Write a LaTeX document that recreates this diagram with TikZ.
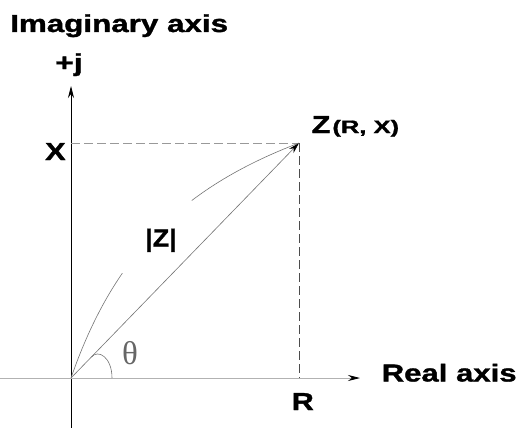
\documentclass[tikz,border=0pt]{standalone}
\usepackage{graphicx}
\usepackage{fontspec}
\setmainfont{Liberation Sans}[BoldFeatures={FakeBold=1.2}]
\newfontfamily\thetafont{Liberation Serif}
\usetikzlibrary{arrows.meta}
\begin{document}
\begin{tikzpicture}[x=1pt,y=-1pt,
  lbl/.style={inner sep=0pt,anchor=base west,font=\fontsize{24.5}{28}\selectfont\bfseries},
  axisline/.style={line width=0.8pt},
  guide/.style={gray!80,line width=0.7pt,dash pattern=on 9pt off 4pt},
  thin/.style={gray!90!black,line width=0.6pt},
  tip/.style={-{Stealth[length=12pt,width=6pt]}}]
\useasboundingbox (0,0) rectangle (519,428);
% key points
\coordinate (O) at (71,378);
\coordinate (Z) at (299,143);
\coordinate (Xp) at (71,143);
\coordinate (Rp) at (299,378);
\coordinate (ybot) at (71,428);
\coordinate (ytop) at (71,86);
\coordinate (xleft) at (0,378);
\coordinate (xright) at (360,378);
\coordinate (ta) at (91.5,357);
\coordinate (tb) at (112,378);
% axes
\draw[axisline,black,tip] (ybot) -- (ytop);
\draw[axisline,gray!60,-{Stealth[length=12pt,width=6pt,black]}] (xleft) -- (xright);
% guides
\draw[guide] (Xp) -- (Z);
\draw[guide,black!70] (Z) -- (Rp);
% vector and arc
\draw[thin,-{Stealth[length=11pt,width=6pt,black]}] (O) -- (Z);
\draw[thin,dash pattern=on 117pt off 101pt on 160pt] (O) to[bend left=25] (Z);
\draw[thin] (ta) .. controls (98,349) and (112,357) .. (tb);
% labels
\node[lbl] (ima) at (10,32) {\scalebox{1.28}[1]{Imaginary axis}};
\node[lbl] (pj) at (55,71) {\scalebox{1.3}[1]{+j}};
\node[lbl] (xl) at (45,160) {\scalebox{1.25}[1]{X}};
\node[lbl] (zl) at (311.5,133) {\scalebox{1.25}[1]{Z}\hspace{2pt}\fontsize{18}{20}\selectfont\scalebox{1.42}[1]{(R, X)}};
\node[lbl] (mag) at (145,246.5) {\scalebox{1.1}[1]{|Z|}};
\node[lbl] (rl) at (291.5,410) {\scalebox{1.25}[1]{R}};
\node[lbl] (real) at (381.5,381.5) {\scalebox{1.27}[1]{Real axis}};
\node[inner sep=0pt,text=gray!80!black,font=\thetafont\fontsize{33}{36}\selectfont] (th) at (130,353.5) {θ};
\end{tikzpicture}
\end{document}
